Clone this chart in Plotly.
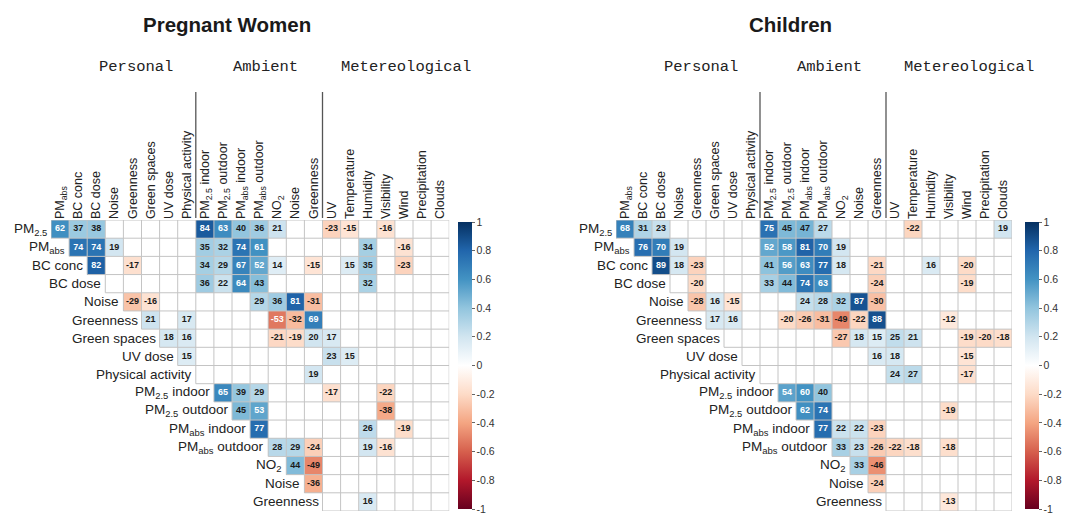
import plotly.graph_objects as go

W, H = 1071, 515

# ---------------- data ----------------
row_labels = ["PM<sub>2.5</sub>", "PM<sub>abs</sub>", "BC conc", "BC dose", "Noise", "Greenness",
              "Green spaces", "UV dose", "Physical activity", "PM<sub>2.5</sub> indoor",
              "PM<sub>2.5</sub> outdoor", "PM<sub>abs</sub> indoor", "PM<sub>abs</sub> outdoor",
              "NO<sub>2</sub>", "Noise", "Greenness"]
col_labels = ["PM<sub>abs</sub>", "BC conc", "BC dose", "Noise", "Greenness", "Green spaces",
              "UV dose", "Physical activity", "PM<sub>2.5</sub> indoor", "PM<sub>2.5</sub> outdoor",
              "PM<sub>abs</sub> indoor", "PM<sub>abs</sub> outdoor", "NO<sub>2</sub>", "Noise",
              "Greenness", "UV", "Temperature", "Humidity", "Visibility", "Wind",
              "Precipitation", "Clouds"]
group_labels = ["Personal", "Ambient", "Metereological"]
panel_titles = ["Pregnant Women", "Children"]

# Pregnant women: significant correlations (x100) as row index / column index / value
pw_row = [0]*11 + [1]*9 + [2]*11 + [3]*5 + [4]*6 + [5]*5 + [6]*6 + [7]*3 + [8]*1 + [9]*5 + [10]*3 + [11]*3 + [12]*5 + [13]*2 + [14]*1 + [15]*1
pw_col = [0, 1, 2, 8, 9, 10, 11, 12, 15, 16, 18,
          1, 2, 3, 8, 9, 10, 11, 17, 19,
          2, 4, 8, 9, 10, 11, 12, 14, 16, 17, 19,
          8, 9, 10, 11, 17,
          4, 5, 11, 12, 13, 14,
          5, 7, 12, 13, 14,
          6, 7, 12, 13, 14, 15,
          7, 15, 16,
          14,
          9, 10, 11, 15, 18,
          10, 11, 18,
          11, 17, 19,
          12, 13, 14, 17, 18,
          13, 14,
          14,
          17]
pw_val = [62, 37, 38, 84, 63, 40, 36, 21, -23, -15, -16,
          74, 74, 19, 35, 32, 74, 61, 34, -16,
          82, -17, 34, 29, 67, 52, 14, -15, 15, 35, -23,
          36, 22, 64, 43, 32,
          -29, -16, 29, 36, 81, -31,
          21, 17, -53, -32, 69,
          18, 16, -21, -19, 20, 17,
          15, 23, 15,
          19,
          65, 39, 29, -17, -22,
          45, 53, -38,
          77, 26, -19,
          28, 29, -24, 19, -16,
          44, -49,
          -36,
          16]

# Children
ch_row = [0]*9 + [1]*8 + [2]*11 + [3]*7 + [4]*8 + [5]*9 + [6]*8 + [7]*3 + [8]*3 + [9]*3 + [10]*3 + [11]*4 + [12]*6 + [13]*2 + [14]*1 + [15]*1
ch_col = [0, 1, 2, 8, 9, 10, 11, 16, 21,
          1, 2, 3, 8, 9, 10, 11, 12,
          2, 3, 4, 8, 9, 10, 11, 12, 14, 17, 19,
          4, 8, 9, 10, 11, 14, 19,
          4, 5, 6, 10, 11, 12, 13, 14,
          5, 6, 9, 10, 11, 12, 13, 14, 18,
          12, 13, 14, 15, 16, 19, 20, 21,
          14, 15, 19,
          15, 16, 19,
          9, 10, 11,
          10, 11, 18,
          11, 12, 13, 14,
          12, 13, 14, 15, 16, 18,
          13, 14,
          14,
          18]
ch_val = [68, 31, 23, 75, 45, 47, 27, -22, 19,
          76, 70, 19, 52, 58, 81, 70, 19,
          89, 18, -23, 41, 56, 63, 77, 18, -21, 16, -20,
          -20, 33, 44, 74, 63, -24, -19,
          -28, 16, -15, 24, 28, 32, 87, -30,
          17, 16, -20, -26, -31, -49, -22, 88, -12,
          -27, 18, 15, 25, 21, -19, -20, -18,
          16, 18, -15,
          24, 27, -17,
          54, 60, 40,
          62, 74, -19,
          77, 22, 22, -23,
          33, 23, -26, -22, -18, -18,
          33, -46,
          -24,
          -13]

cbar_vals = [1, 0.8, 0.6, 0.4, 0.2, 0, -0.2, -0.4, -0.6, -0.8, -1]
cbar_text = ["1", "0.8", "0.6", "0.4", "0.2", "0", "-0.2", "-0.4", "-0.6", "-0.8", "-1"]

rdbu = ["#67001F", "#B2182B", "#D6604D", "#F4A582", "#FDDBC7", "#FFFFFF",
        "#D1E5F0", "#92C5DE", "#4393C3", "#2166AC", "#053061"]
colorscale = [[k / 10, c] for k, c in enumerate(rdbu)]

FONT = "Arial, Liberation Sans, sans-serif"
MONO = "Courier New, Liberation Mono, monospace"

nr, nc = len(row_labels), len(col_labels)

# ---------------- layout geometry (pixels) ----------------
grid_top, grid_bot = 220, 511
panels = [
    dict(left=51, cell=18.1, cbar_x=458, rows=pw_row, cols=pw_col, vals=pw_val, sfx=""),
    dict(left=616, cell=18.0, cbar_x=1025, rows=ch_row, cols=ch_col, vals=ch_val, sfx="2"),
]

def py(p):
    return 1 - p / H

fig = go.Figure()
annotations = []
shapes = []

for k, p in enumerate(panels):
    xa = "x" + p["sfx"]
    ya = "y" + p["sfx"]
    # heatmap matrix: upper triangle white (0), significant cells coloured
    z = [[(0 if j >= i else None) for j in range(nc)] for i in range(nr)]
    for r, c, v in zip(p["rows"], p["cols"], p["vals"]):
        z[r][c] = v / 100
    fig.add_trace(go.Heatmap(
        z=z, x=list(range(nc)), y=list(range(nr)), zmin=-1, zmax=1,
        colorscale=colorscale, hoverinfo="skip", xaxis=xa, yaxis=ya,
        colorbar=dict(x=p["cbar_x"] / W, xanchor="left", thickness=14,
                      len=287, lenmode="pixels", y=py(222), yanchor="top",
                      ypad=0, xpad=0, outlinewidth=0, ticks="outside", ticklen=3,
                      tickcolor="#666", tickvals=cbar_vals, ticktext=cbar_text,
                      tickfont=dict(family=FONT, size=10.5, color="#333")),
    ))
    # grid lines of the upper triangle
    gx, gy = [], []
    for kk in range(nr + 1):
        x0 = max(kk - 1, 0) - 0.5
        gx += [x0, nc - 0.5, None]
        gy += [kk - 0.5, kk - 0.5, None]
    for j in range(nc + 1):
        gx += [j - 0.5, j - 0.5, None]
        gy += [-0.5, min(j, nr - 1) + 0.5, None]
    fig.add_trace(go.Scatter(x=gx, y=gy, mode="lines", xaxis=xa, yaxis=ya,
                             line=dict(color="#c4c4c4", width=1), hoverinfo="skip",
                             showlegend=False))
    # numbers
    for light in (False, True):
        xs, ys, ts = [], [], []
        for r, c, v in zip(p["rows"], p["cols"], p["vals"]):
            if (abs(v) >= 50) == light:
                xs.append(c); ys.append(r); ts.append("<b>%d</b>" % v)
        fig.add_trace(go.Scatter(x=xs, y=ys, text=ts, mode="text", xaxis=xa, yaxis=ya,
                                 textfont=dict(family=FONT, size=9,
                                               color="white" if light else "#1a1a1a"),
                                 hoverinfo="skip", showlegend=False))
    # axes
    x0px = p["left"]
    x1px = p["left"] + nc * p["cell"]
    fig.layout["xaxis" + p["sfx"]] = dict(
        domain=[x0px / W, x1px / W], range=[-0.5, nc - 0.5], anchor=ya, side="top",
        tickvals=list(range(nc)), ticktext=col_labels, tickangle=-90,
        tickfont=dict(family=FONT, size=12.5, color="#222"),
        showgrid=False, zeroline=False, showline=False, ticks="", fixedrange=True)
    fig.layout["yaxis" + p["sfx"]] = dict(
        domain=[py(grid_bot), py(grid_top)], range=[nr - 0.5, -0.5], anchor=xa,
        showticklabels=False, showgrid=False, zeroline=False, showline=False,
        ticks="", fixedrange=True)
    # row labels (staggered)
    for i, lab in enumerate(row_labels):
        annotations.append(dict(x=i - 0.5, y=i, xref=xa, yref=ya, text=lab,
                                xanchor="right", yanchor="middle", xshift=-2,
                                showarrow=False,
                                font=dict(family=FONT, size=13.5, color="#222")))
    # separators between groups
    for sx in (7.5, 14.5):
        shapes.append(dict(type="line", xref=xa, yref="paper", x0=sx, x1=sx,
                           y0=py(grid_top - 2), y1=py(92),
                           line=dict(color="#555", width=1.3)))
    # group headers
    for gxv, lab in zip((4.2, 11.35, 19.1), group_labels):
        annotations.append(dict(x=gxv, y=py(67), xref=xa, yref="paper", text=lab,
                                showarrow=False, xanchor="center", yanchor="middle",
                                font=dict(family=MONO, size=15.5, color="#222")))
    # panel title
    annotations.append(dict(x=9.2, y=py(24), xref=xa, yref="paper",
                            text="<b>%s</b>" % panel_titles[k], showarrow=False,
                            xanchor="center", yanchor="middle",
                            font=dict(family=FONT, size=20.5, color="#1a1a1a")))

fig.update_layout(width=W, height=H, margin=dict(l=0, r=0, t=0, b=0),
                  paper_bgcolor="white", plot_bgcolor="white", showlegend=False,
                  annotations=annotations, shapes=shapes)

fig.write_html("out.html", config={"displayModeBar": False},
               post_script="document.body.style.margin='0';document.body.style.overflow='hidden';")
